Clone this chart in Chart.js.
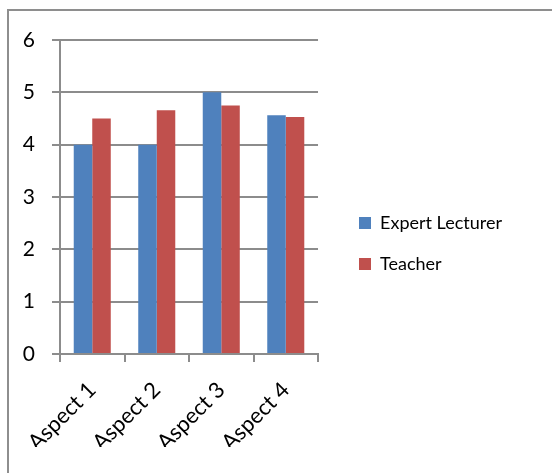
<!DOCTYPE html>
<html>
<head>
<meta charset="utf-8">
<script src="https://cdn.jsdelivr.net/npm/chart.js@4.4.1/dist/chart.umd.min.js"></script>
<style>
  html, body { margin: 0; padding: 0; background: #fff; overflow: hidden; }
  #wrap { position: relative; width: 552px; height: 473px; }
  #frame { position: absolute; left: 7px; top: 9px; width: 600px; height: 520px;
           border-left: 2px solid #8e8e8e; border-top: 2px solid #8e8e8e; box-sizing: border-box; }
  canvas { position: absolute; left: 0; top: 0; }
</style>
</head>
<body>
<div id="wrap">
  <div id="frame"></div>
  <canvas id="c" width="552" height="473"></canvas>
</div>
<script>
// Ratings per aspect
const categories = ['Aspect 1', 'Aspect 2', 'Aspect 3', 'Aspect 4'];
const expertLecturer = [4.0, 4.0, 5.0, 4.56];
const teacher = [4.5, 4.66, 4.75, 4.53];
const seriesNames = ['Expert Lecturer', 'Teacher'];
const yTicks = [0, 1, 2, 3, 4, 5, 6];

const gridColor = '#8c8c8c';
const fontFamily = 'Lato, "Open Sans", sans-serif';

new Chart(document.getElementById('c'), {
  type: 'bar',
  data: {
    labels: categories,
    datasets: [
      { label: seriesNames[0], data: expertLecturer, backgroundColor: '#4F81BD' },
      { label: seriesNames[1], data: teacher, backgroundColor: '#C0504D' }
    ]
  },
  options: {
    responsive: false,
    animation: false,
    devicePixelRatio: 1,
    datasets: { bar: { categoryPercentage: 0.574, barPercentage: 1.0 } },
    layout: { padding: { top: 40, bottom: 26, left: 0, right: 40 } },
    plugins: {
      tooltip: { enabled: false },
      legend: {
        position: 'right',
        maxWidth: 260,
        labels: {
          boxWidth: 12, boxHeight: 12, padding: 23,
          color: '#000',
          font: { family: fontFamily, size: 18 }
        }
      }
    },
    scales: {
      x: {
        offset: true,
        grid: { display: true, drawOnChartArea: false, offset: true, color: gridColor, lineWidth: 2, tickLength: 8 },
        border: { display: true, color: gridColor, width: 2 },
        ticks: {
          color: '#000', minRotation: 45, maxRotation: 45, padding: 15,
          font: { family: fontFamily, size: 22 }
        },
        afterFit: s => { s.height = 93; }
      },
      y: {
        min: 0, max: 6,
        afterBuildTicks: s => { s.ticks = yTicks.map(v => ({ value: v })); },
        grid: { color: gridColor, lineWidth: 2, tickLength: 8 },
        border: { display: true, color: gridColor, width: 2 },
        ticks: {
          color: '#000', padding: 17,
          font: { family: fontFamily, size: 21 }
        },
        afterFit: s => { s.width = 60; }
      },
      // empty spacer between the plot and the legend
      gap: {
        type: 'linear', position: 'right', display: true,
        grid: { display: false }, border: { display: false },
        ticks: { display: false },
        afterFit: s => { s.width = 18; }
      }
    }
  }
});
</script>
</body>
</html>
